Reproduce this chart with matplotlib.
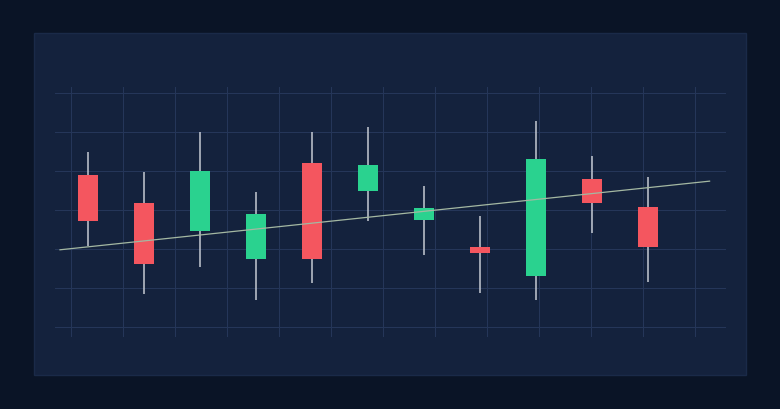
import numpy as np
import matplotlib.pyplot as plt
from matplotlib.patches import Rectangle

# --- OHLC data
opens  = [119.0, 111.9, 104.5,  97.4, 122.1, 114.8, 107.5, 100.6,  93.2, 117.9, 110.8]
highs  = [124.9, 119.8, 129.9, 114.7, 129.9, 131.4, 116.2, 108.5, 132.9, 123.8, 118.5]
lows   = [100.8,  88.4,  95.5,  86.9,  91.2, 107.1,  98.5,  88.7,  86.9, 104.0,  91.5]
closes = [107.3,  96.1, 120.1, 108.9,  97.5, 121.6, 110.4,  99.1, 123.1, 111.7, 100.6]

# trend line endpoints
trend_x = [-0.5, 11.1]
trend_y = [99.8, 117.4]

BG = '#0a1426'
PANEL = '#14223d'
GRID = '#26375a'
UP = '#2ad28f'
DOWN = '#f4565f'
WICK = '#c5cad3'

fig = plt.figure(figsize=(7.8, 4.1), dpi=100, facecolor=BG)
fig.patches.append(Rectangle((34 / 780, 34 / 410), 712 / 780, 342 / 410,
                             transform=fig.transFigure, facecolor=PANEL,
                             edgecolor='#1a2a48', linewidth=1.0, zorder=-10))

ax = fig.add_axes([55 / 780, 72 / 410, 671 / 780, 250 / 410])
ax.set_facecolor('none')

x = np.arange(len(opens))
o = np.array(opens)
c = np.array(closes)
colors = [UP if cc >= oo else DOWN for oo, cc in zip(o, c)]

# wicks, then bodies on top
ax.vlines(x, lows, highs, color=WICK, linewidth=1.1, zorder=2)
ax.bar(x, np.abs(c - o), bottom=np.minimum(o, c), width=0.34,
       color=colors, zorder=3)
ax.plot(trend_x, trend_y, color='#a4b8a2', linewidth=0.9, zorder=4)

ax.set_xlim(-0.589, 11.393)
ax.set_ylim(77.44, 141.54)
ax.set_xticks(-17 / 56 + np.arange(13) * 52 / 56)
ax.set_yticks(np.arange(80, 141, 10))
ax.grid(True, color=GRID, linewidth=0.7)
ax.set_axisbelow(True)
ax.tick_params(length=0, labelbottom=False, labelleft=False)
for s in ax.spines.values():
    s.set_visible(False)

fig.savefig('out.png', dpi=100, facecolor=BG)
